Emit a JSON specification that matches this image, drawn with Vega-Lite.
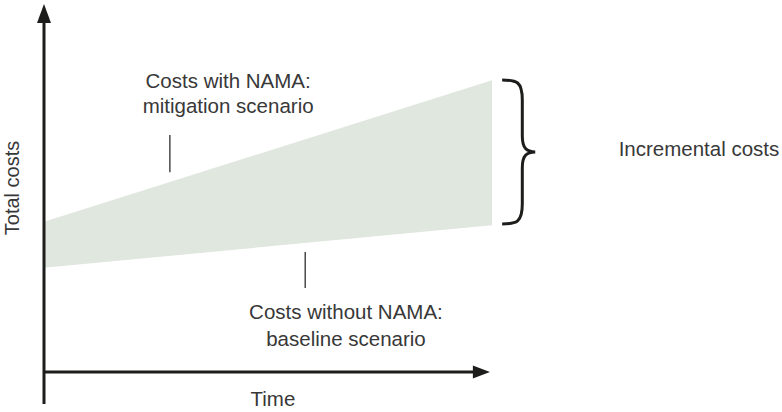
{
  "$schema": "https://vega.github.io/schema/vega-lite/v6.json",
  "width": 782,
  "height": 412,
  "padding": 0,
  "autosize": {"type": "fit", "contains": "padding"},
  "background": "white",
  "config": {"view": {"stroke": null}},
  "datasets": {
    "band": [
      {"t": 0, "low": 28.3, "high": 40.8},
      {"t": 100, "low": 39.9, "high": 79.3}
    ],
    "axes": [
      {"t": 0, "v": -8.7, "t2": 0, "v2": 95.7},
      {"t": 0, "v": 0, "t2": 96.4, "v2": 0}
    ],
    "arrows": [
      {"t": 0, "v": 97.3, "dir": "up"},
      {"t": 97.3, "v": 0, "dir": "right"}
    ],
    "leaders": [
      {"t": 28.1, "v": 64.4, "t2": 28.1, "v2": 54.3},
      {"t": 58.3, "v": 32.6, "t2": 58.3, "v2": 22.8}
    ],
    "brace": [{"t": 105.8, "v": 59.8}],
    "labels": [
      {"t": 41.1, "v": 78.8, "label": "Costs with NAMA:"},
      {"t": 41.1, "v": 72.0, "label": "mitigation scenario"},
      {"t": 67.4, "v": 16.0, "label": "Costs without NAMA:"},
      {"t": 67.4, "v": 8.7, "label": "baseline scenario"},
      {"t": 146.2, "v": 60.3, "label": "Incremental costs"},
      {"t": 51.1, "v": -7.6, "label": "Time"}
    ],
    "ylabel": [{"t": -7.0, "v": 50, "label": "Total costs"}]
  },
  "layer": [
    {
      "data": {"name": "band"},
      "mark": {"type": "area", "color": "#e0e7df", "opacity": 1},
      "encoding": {
        "x": {"field": "t", "type": "quantitative", "scale": {"domain": [0, 100], "range": [44, 492], "nice": false, "zero": false}, "axis": null},
        "y": {"field": "high", "type": "quantitative", "scale": {"domain": [0, 100], "range": [372, 4], "nice": false, "zero": false}, "axis": null},
        "y2": {"field": "low"}
      }
    },
    {
      "data": {"name": "axes"},
      "mark": {"type": "rule", "color": "#1d1d1b", "strokeWidth": 3},
      "encoding": {
        "x": {"field": "t", "type": "quantitative", "axis": null},
        "y": {"field": "v", "type": "quantitative", "axis": null},
        "x2": {"field": "t2"},
        "y2": {"field": "v2"}
      }
    },
    {
      "data": {"name": "arrows"},
      "mark": {"type": "point", "filled": true, "color": "#1d1d1b", "opacity": 1, "size": 400, "strokeWidth": 0},
      "encoding": {
        "x": {"field": "t", "type": "quantitative", "axis": null},
        "y": {"field": "v", "type": "quantitative", "axis": null},
        "shape": {"field": "dir", "type": "nominal", "legend": null, "scale": {"domain": ["up", "right"], "range": ["M0,-1L0.7,0.9L-0.7,0.9Z", "M1,0L-0.7,0.65L-0.7,-0.65Z"]}}
      }
    },
    {
      "data": {"name": "leaders"},
      "mark": {"type": "rule", "color": "#1d1d1b", "strokeWidth": 1.2},
      "encoding": {
        "x": {"field": "t", "type": "quantitative", "axis": null},
        "y": {"field": "v", "type": "quantitative", "axis": null},
        "x2": {"field": "t2"},
        "y2": {"field": "v2"}
      }
    },
    {
      "data": {"name": "brace"},
      "mark": {"type": "point", "filled": false, "fill": null, "stroke": "#1d1d1b", "strokeWidth": 3, "opacity": 1, "size": 20736, "shape": "M-0.22,-1C-0.02,-1 0.06,-0.98 0.06,-0.72L0.06,-0.22C0.06,-0.05 0.12,0 0.24,0C0.12,0 0.06,0.05 0.06,0.22L0.06,0.72C0.06,0.98 -0.02,1 -0.22,1"},
      "encoding": {
        "x": {"field": "t", "type": "quantitative", "axis": null},
        "y": {"field": "v", "type": "quantitative", "axis": null}
      }
    },
    {
      "data": {"name": "labels"},
      "mark": {"type": "text", "font": "Liberation Sans", "fontSize": 20.5, "color": "#383838", "align": "center", "baseline": "middle"},
      "encoding": {
        "x": {"field": "t", "type": "quantitative", "axis": null},
        "y": {"field": "v", "type": "quantitative", "axis": null},
        "text": {"field": "label"}
      }
    },
    {
      "data": {"name": "ylabel"},
      "mark": {"type": "text", "font": "Liberation Sans", "fontSize": 20, "color": "#383838", "align": "center", "baseline": "middle", "angle": 270},
      "encoding": {
        "x": {"field": "t", "type": "quantitative", "axis": null},
        "y": {"field": "v", "type": "quantitative", "axis": null},
        "text": {"field": "label"}
      }
    }
  ]
}
